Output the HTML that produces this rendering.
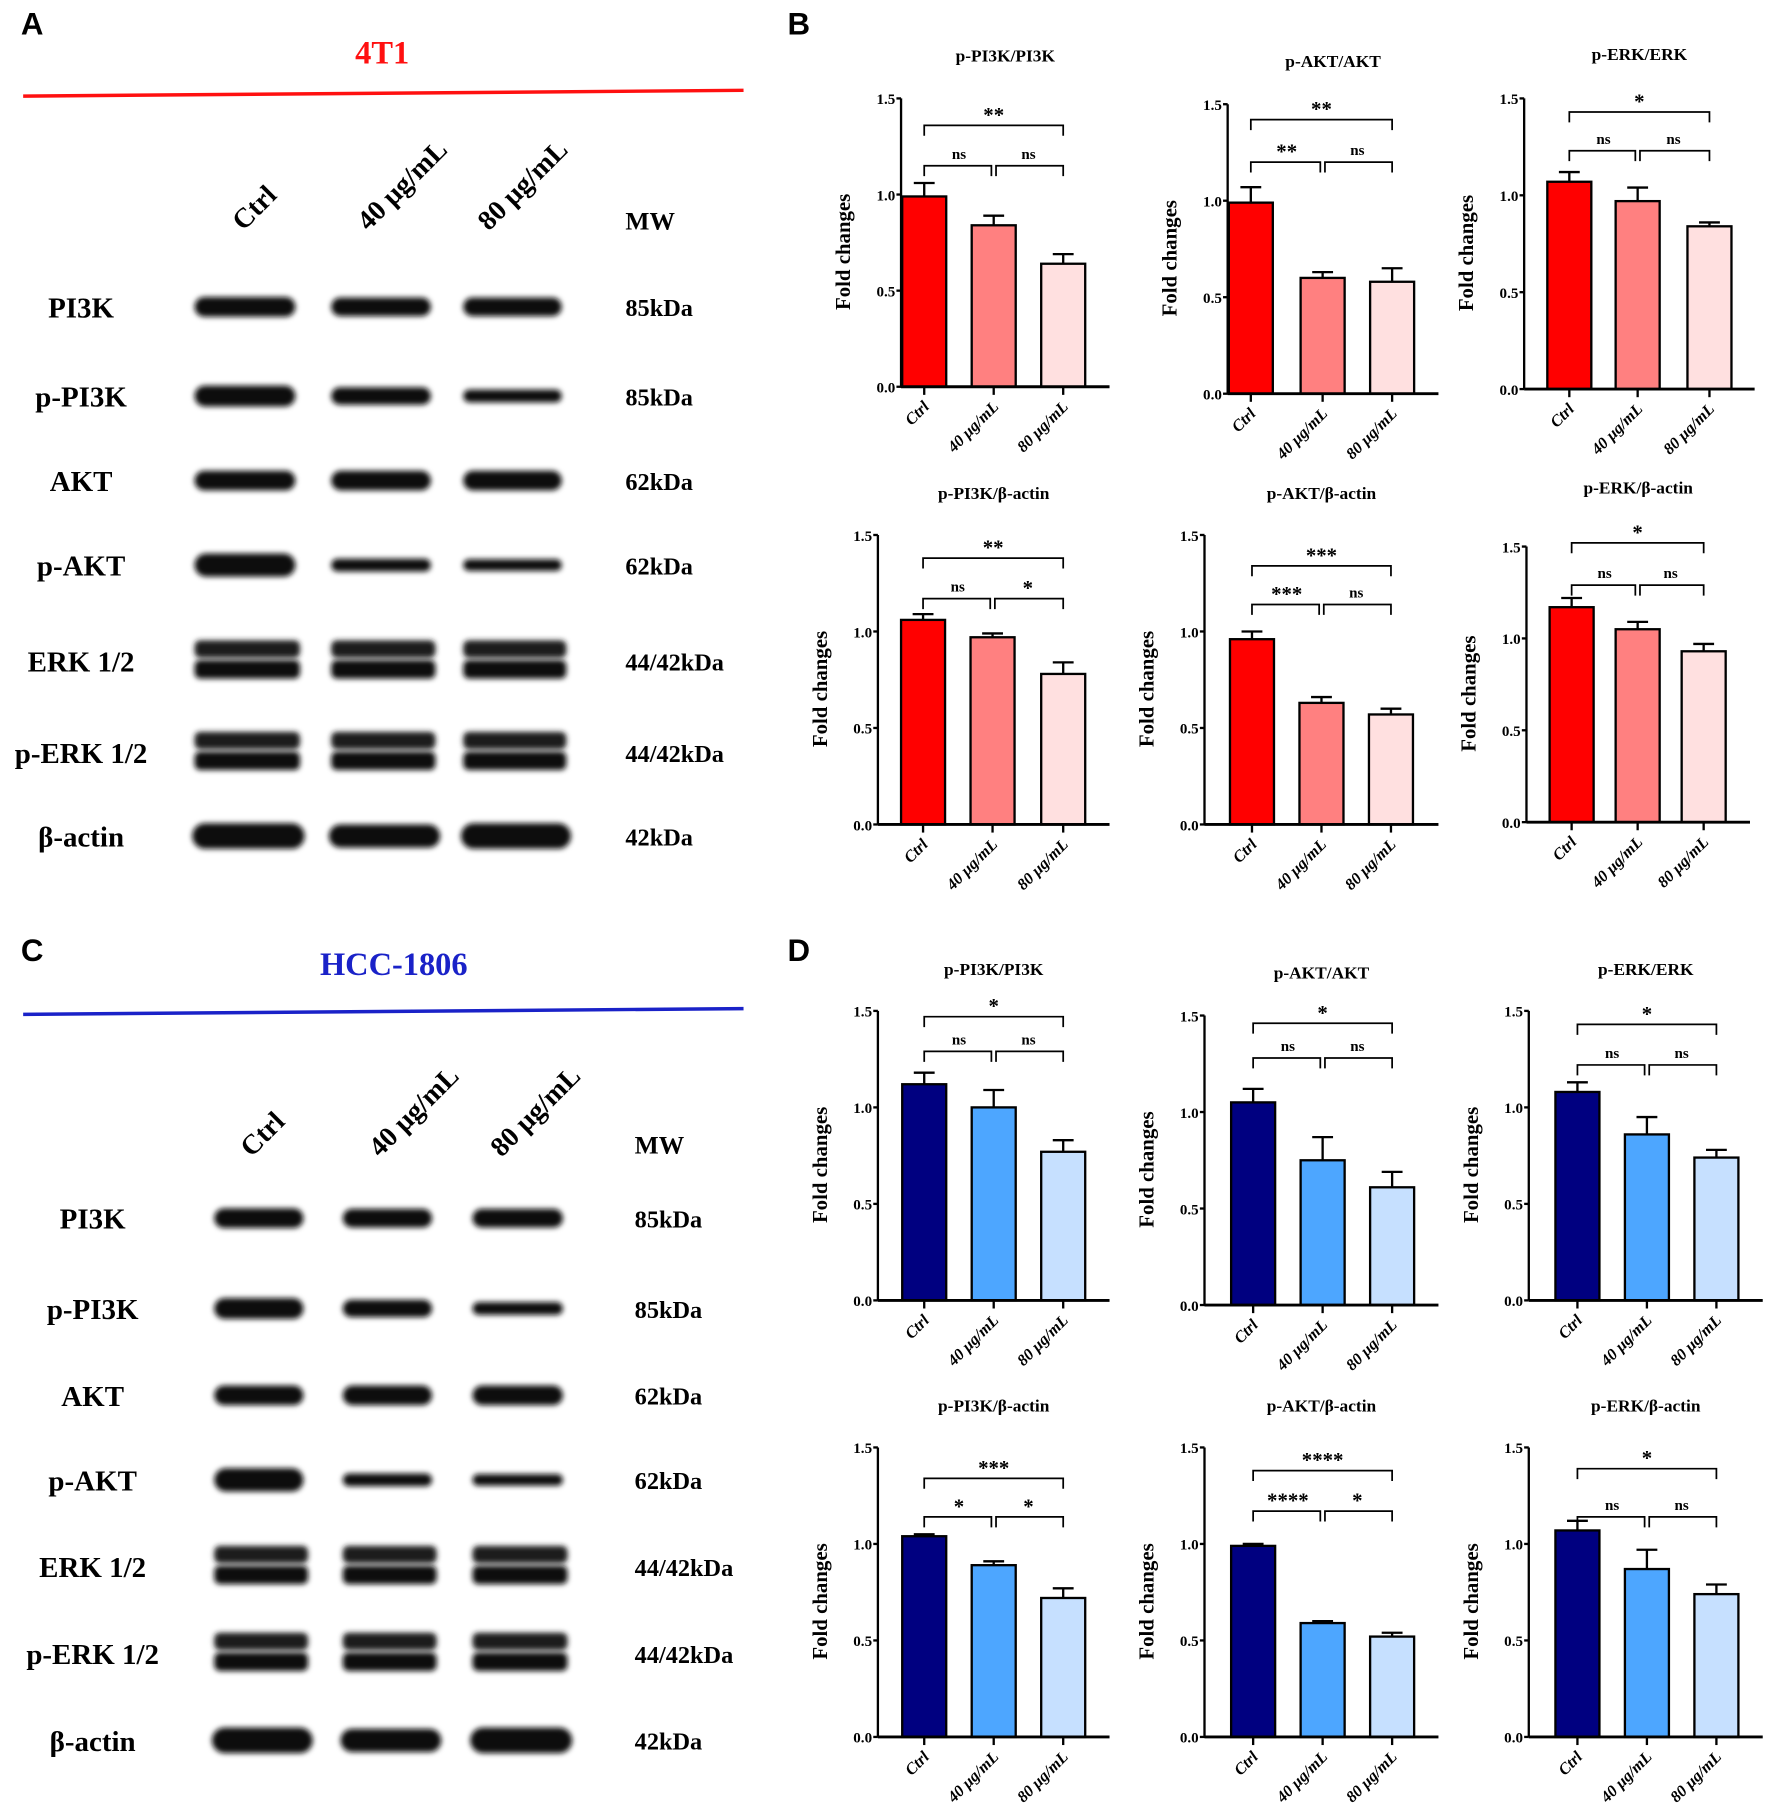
<!DOCTYPE html>
<html><head><meta charset="utf-8"><style>
html,body{margin:0;padding:0;background:#fff}
svg{display:block}
text{font-family:"Liberation Serif",serif;font-weight:bold}
</style></head><body>
<svg id="fig" xmlns="http://www.w3.org/2000/svg" width="1772" height="1818" viewBox="0 0 1530 1570" preserveAspectRatio="none">
<defs><filter id="blur" x="-20%" y="-50%" width="140%" height="200%"><feGaussianBlur stdDeviation="2.2"/></filter></defs>
<rect width="1530" height="1570" fill="#fff"/>
</svg>
<script>
// ---------- chart data ----------
const categories = ["Ctrl","40 μg/mL","80 μg/mL"];
const yTicks = [0.0,0.5,1.0,1.5];
const tickLabels = ["0.0","0.5","1.0","1.5"];
const chartTitles = ["p-PI3K/PI3K","p-AKT/AKT","p-ERK/ERK","p-PI3K/β-actin","p-AKT/β-actin","p-ERK/β-actin",
 "p-PI3K/PI3K","p-AKT/AKT","p-ERK/ERK","p-PI3K/β-actin","p-AKT/β-actin","p-ERK/β-actin"];
const means = [[0.99,0.84,0.64],[0.99,0.60,0.58],[1.07,0.97,0.84],[1.06,0.97,0.78],[0.96,0.63,0.57],[1.17,1.05,0.93],
 [1.12,1.00,0.77],[1.05,0.75,0.61],[1.08,0.86,0.74],[1.04,0.89,0.72],[0.99,0.59,0.52],[1.07,0.87,0.74]];
const errors = [[0.07,0.05,0.05],[0.08,0.03,0.07],[0.05,0.07,0.02],[0.03,0.02,0.06],[0.04,0.03,0.03],[0.05,0.04,0.04],
 [0.06,0.09,0.06],[0.07,0.12,0.08],[0.05,0.09,0.04],[0.01,0.02,0.05],[0.01,0.01,0.02],[0.05,0.10,0.05]];
const sigTop = ["**","**","*","**","***","*","*","*","*","***","****","*"];
const sigLeft = ["ns","**","ns","ns","***","ns","ns","ns","ns","*","****","ns"];
const sigRight = ["ns","ns","ns","*","ns","ns","ns","ns","ns","*","*","ns"];
const bracketLow = [1.15,1.2,1.23,1.17,1.14,1.29,1.29,1.28,1.22,1.14,1.17,1.14];
const bracketTop = [1.36,1.42,1.43,1.38,1.34,1.52,1.47,1.46,1.43,1.34,1.38,1.39];

// layout (not data)
const layout = [
 {ax:778,y0:334,y15:85,bx:[798,858,918],xe:958,ty:53},
 {ax:1060,y0:340,y15:90,bx:[1080,1142,1202],xe:1242,ty:58},
 {ax:1316,y0:336,y15:85,bx:[1355,1414,1476],xe:1515,ty:52},
 {ax:758,y0:712,y15:462,bx:[797,857,918],xe:958,ty:431},
 {ax:1040,y0:712,y15:462,bx:[1081,1141,1201],xe:1242,ty:431},
 {ax:1318,y0:710,y15:472,bx:[1357,1414,1471],xe:1511,ty:426},
 {ax:758,y0:1123,y15:873,bx:[798,858,918],xe:958,ty:842},
 {ax:1040,y0:1127,y15:877,bx:[1082,1142,1202],xe:1242,ty:845},
 {ax:1320,y0:1123,y15:873,bx:[1362,1422,1482],xe:1522,ty:842},
 {ax:758,y0:1500,y15:1250,bx:[798,858,918],xe:958,ty:1219},
 {ax:1040,y0:1500,y15:1250,bx:[1082,1142,1202],xe:1242,ty:1219},
 {ax:1320,y0:1500,y15:1250,bx:[1362,1422,1482],xe:1522,ty:1219}];
const redCols=["#ff0000","#ff8080","#ffe0e0"], blueCols=["#000080","#4da6ff","#c6e0ff"];

const svg=document.getElementById('fig');
const NS="http://www.w3.org/2000/svg";
function mk(tag,attrs,parent){const e=document.createElementNS(NS,tag);for(const k in attrs)e.setAttribute(k,attrs[k]);(parent||svg).appendChild(e);return e;}
function txt(str,attrs,parent){const e=mk('text',attrs,parent);e.textContent=str;return e;}

const sansBold='font-family:"Liberation Sans",sans-serif;font-weight:bold';
const lb=txt('B',{x:680,y:30,'font-size':27,style:sansBold});


const ld=txt('D',{x:680,y:830,'font-size':27,style:sansBold});



// ---------- charts ----------
for(let c=0;c<12;c++){
 const L=layout[c];
 const g=mk('g',{});
 
 
 const y=v=>L.y0-(L.y0-L.y15)*v/1.5;
 const cols=c<6?redCols:blueCols;
 const t=txt(chartTitles[c],{x:(L.ax+L.xe)/2,y:L.ty,'text-anchor':'middle','font-size':15},g);
 
 
 for(let i=0;i<3;i++){
  const v=means[c][i],e=errors[c][i],x=L.bx[i];
  mk('line',{x1:x,x2:x,y1:y(v),y2:y(v+e),stroke:'#000','stroke-width':2},g);
  mk('line',{x1:x-9,x2:x+9,y1:y(v+e),y2:y(v+e),stroke:'#000','stroke-width':2},g);
  const r=mk('rect',{x:x-19,y:y(v),width:38,height:L.y0-y(v),fill:cols[i],stroke:'#000','stroke-width':2},g);
  
  
  mk('line',{x1:x,x2:x,y1:L.y0,y2:L.y0+7,stroke:'#000','stroke-width':2},g);
  const xl=txt(categories[i],{transform:`translate(${x+5},${L.y0+18}) rotate(-45)`,'text-anchor':'end','font-size':14,'font-style':'italic'},g);
  
  
 }
 mk('line',{x1:L.ax,x2:L.ax,y1:L.y15,y2:L.y0,stroke:'#000','stroke-width':2},g);
 mk('line',{x1:L.ax,x2:L.xe,y1:L.y0,y2:L.y0,stroke:'#000','stroke-width':2.5},g);
 for(let k=0;k<yTicks.length;k++){
  const ty=y(yTicks[k]);
  mk('line',{x1:L.ax-4,x2:L.ax,y1:ty,y2:ty,stroke:'#000','stroke-width':2},g);
  txt(tickLabels[k],{x:L.ax-5,y:ty+5,'text-anchor':'end','font-size':13},g);
 }
 const yt=txt('Fold changes',{transform:`translate(${L.ax-44},${(L.y0+L.y15)/2+8}) rotate(-90)`,'text-anchor':'middle','font-size':18},g);
 
 
 const x0=L.bx[0],x1=L.bx[1],x2=L.bx[2];
 const yl=y(bracketLow[c]),ytop=y(bracketTop[c]);
 const br=(a,b,yy)=>mk('path',{d:`M${a},${yy+9} V${yy} H${b} V${yy+9}`,fill:'none',stroke:'#000','stroke-width':1.5},g);
 br(x0,x1-2,yl);br(x1+2,x2,yl);br(x0,x2,ytop);
 const st=(s,xx,yy)=>txt(s,{x:xx,y:yy-(s==='ns'?6:3),'text-anchor':'middle','font-size':s==='ns'?13:18},g);
 st(sigLeft[c],(x0+x1)/2,yl);st(sigRight[c],(x1+x2)/2,yl);st(sigTop[c],(x0+x2)/2,ytop);
}

// ---------- western blots ----------
const rowNames=["PI3K","p-PI3K","AKT","p-AKT","ERK 1/2","p-ERK 1/2","β-actin"];
const mwLabels=["85kDa","85kDa","62kDa","62kDa","44/42kDa","44/42kDa","42kDa"];
const blots=[
 {letter:'A',ly:22,title:'4T1',tx:330,tyy:45,col:'#ff1010',line:[20,83,642,78],
  lanes:[[168,255],[286,372],[400,485]],rows:[265,342,415,488,571,650,722],labx:70,mwx:540,mwy:190,
  cl:[[210,180],[318,180],[422,180]]},
 {letter:'C',ly:822,title:'HCC-1806',tx:340,tyy:832,col:'#1a22c8',line:[20,876,642,871],
  lanes:[[185,262],[296,373],[408,486]],rows:[1052,1130,1205,1278,1353,1428,1503],labx:80,mwx:548,mwy:988,
  cl:[[217,980],[328,980],[433,980]]}];
const thick=[[17,16,16],[18,15,11],[17,17,17],[20,11,10],[0,0,0],[0,0,0],[22,20,22]];
blots.forEach((B,bi)=>{
 const g=mk('g',{});
 
 
 txt(B.letter,{x:18,y:B.ly+8,'font-size':27,style:sansBold},g);
 txt(B.title,{x:B.tx,y:B.tyy+10,'text-anchor':'middle','font-size':28,fill:B.col},g);
 mk('line',{x1:B.line[0],y1:B.line[1],x2:B.line[2],y2:B.line[3],stroke:B.col,'stroke-width':3},g);
 B.cl.forEach((p,i)=>txt(['Ctrl','40 μg/mL','80 μg/mL'][i],{transform:`translate(${p[0]},${p[1]+20}) rotate(-45)`,'font-size':24},g));
 txt('MW',{x:B.mwx,y:B.mwy+8,'font-size':22},g);
 B.rows.forEach((ry,r)=>{
  txt(rowNames[r],{x:B.labx,y:ry+9,'text-anchor':'middle','font-size':25},g);
  txt(mwLabels[r],{x:B.mwx,y:ry+8,'font-size':21},g);
  B.lanes.forEach((ln,i)=>{
   const ext=r===6?8:0;
   const a=ln[0]-(r===6?2:0),b=ln[1]+ext;
   if(r===4||r===5){
    mk('rect',{x:a,y:ry-18,width:b-a+4,height:15,rx:5,fill:'#1a1a1a',filter:'url(#blur)'},g);
    mk('rect',{x:a,y:ry-1,width:b-a+4,height:16,rx:5,fill:'#111',filter:'url(#blur)'},g);
   } else {
    const h=thick[r][i];
    mk('rect',{x:a,y:ry-h/2,width:b-a,height:h,rx:h/2,fill:'#111',filter:'url(#blur)'},g);
   }
  });
 });
});
</script>
</body></html>
